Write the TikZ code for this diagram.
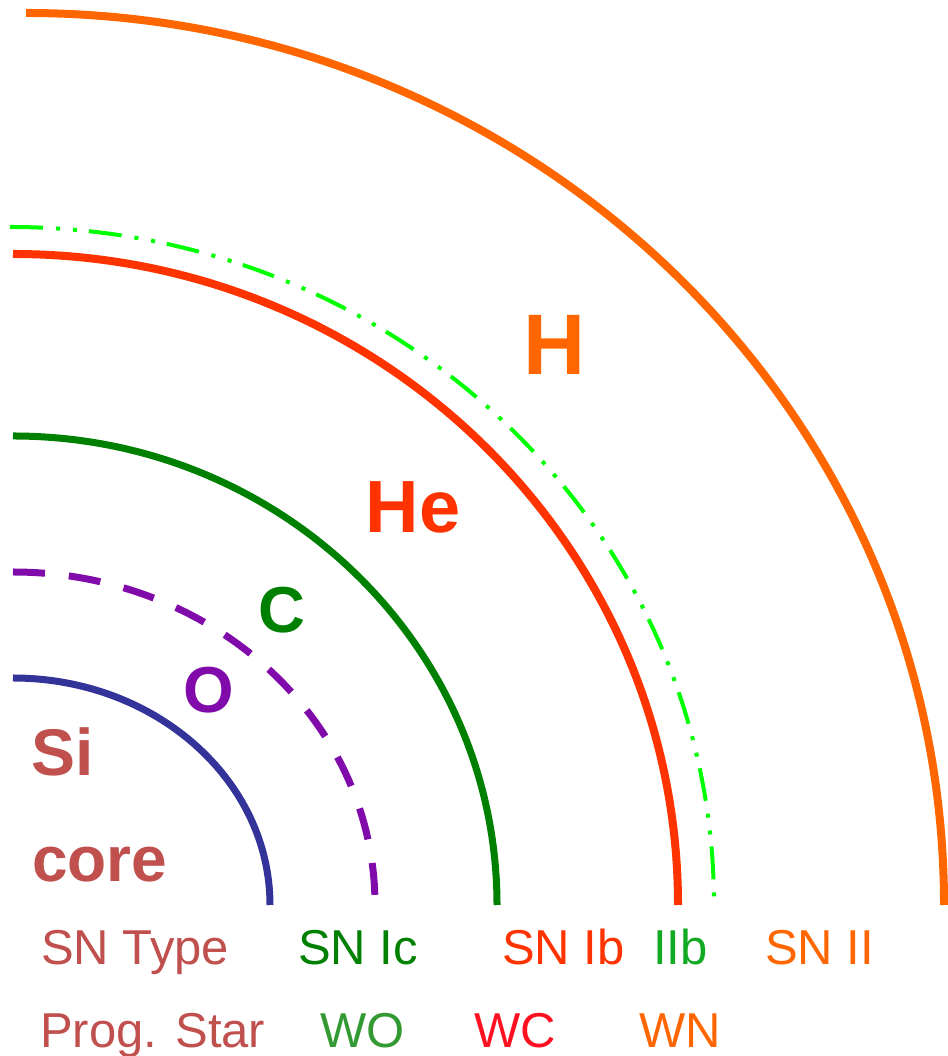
\documentclass[tikz,border=0pt]{standalone}
\usepackage{fontspec}
\setmainfont{Liberation Sans}

\definecolor{corered}{RGB}{192,80,77}
\definecolor{siblue}{RGB}{51,51,153}
\definecolor{opurple}{RGB}{128,10,170}
\definecolor{cgreen}{RGB}{0,128,0}
\definecolor{wogreen}{RGB}{51,153,51}
\definecolor{hered}{RGB}{255,51,0}
\definecolor{iibgreen}{RGB}{17,170,34}
\definecolor{limeline}{RGB}{0,255,0}
\definecolor{horange}{RGB}{255,102,0}
\definecolor{wcred}{RGB}{255,16,32}

\begin{document}
\begin{tikzpicture}[x=1pt,y=1pt]
      \tikzset{shell/.style={line width=7pt},
               elem/.style={font=\bfseries\fontsize{#1}{#1}\selectfont,inner sep=0pt,anchor=base},
               tag/.style={font=\fontsize{49}{49}\selectfont,inner sep=0pt,anchor=base west}}
      \def\rowsn{91}
      \def\rowstar{9}
      \useasboundingbox (0,0) rectangle (947,1056);

% shells
\draw[shell,siblue] (13,378) arc[start angle=90,end angle=0,x radius=257,y radius=227];
\draw[shell,opurple,dash pattern=on 32pt off 24pt] (13,484) arc[start angle=90,end angle=0,x radius=362,y radius=333];
\draw[shell,cgreen] (13,620) arc[start angle=90,end angle=0,x radius=484,y radius=469];
\draw[shell,hered,line width=8pt] (13,802) arc[start angle=90,end angle=0,x radius=665,y radius=651];
\draw[limeline,line width=4pt,dash pattern=on 33pt off 13pt on 4pt off 13pt on 4pt off 12pt] (10,829) arc[start angle=90,end angle=0,x radius=704,y radius=678];
\draw[shell,horange,line width=8pt] (26,1043) arc[start angle=90,end angle=0,x radius=918,y radius=892];

% element labels
\node[elem=86,horange] (H) at (555,681) {H};
\node[elem=74,hered] (He) at (413,523) {He};
\node[elem=65,cgreen] (C) at (282,423) {C};
\node[elem=65,opurple] (Ox) at (209,343) {O};
\node[elem=66,corered,anchor=base west] (Si) at (31,280) {Si};
\node[elem=64,corered,anchor=base west] (core) at (32,174) {core};

% SN types
\node[tag,corered] (sntype) at (41,\rowsn) {SN Type};
\node[tag,cgreen] (snic) at (298,\rowsn) {SN Ic};
\node[tag,hered] (snib) at (502,\rowsn) {SN Ib};
\node[tag,iibgreen] (iib) at (653,\rowsn) {IIb};
\node[tag,horange] (snii) at (765,\rowsn) {SN II};

% progenitors
\node[tag,corered] (prog) at (40,\rowstar) {Prog. Star};
\node[tag,wogreen] (wo) at (320,\rowstar) {WO};
\node[tag,wcred] (wc) at (474,\rowstar) {WC};
\node[tag,horange] (wn) at (639,\rowstar) {WN};
    \end{tikzpicture}
\end{document}
